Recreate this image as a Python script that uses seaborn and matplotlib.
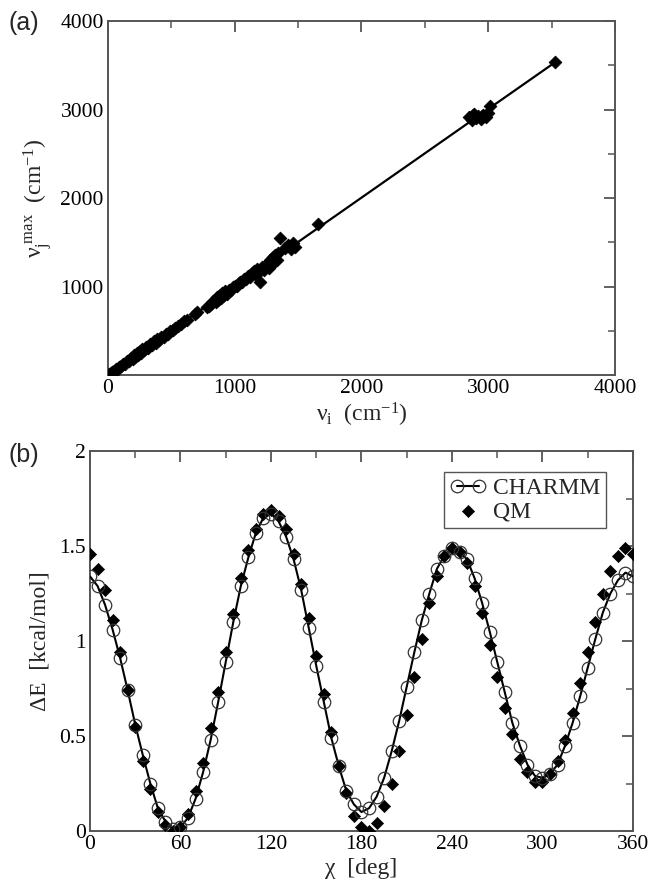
import numpy as np
import matplotlib
matplotlib.use("Agg")
import matplotlib.pyplot as plt
import seaborn as sns

# --- panel (a): nu_i vs nu_j max --- #
nu_i = [10, 20, 30, 45, 60, 75, 90, 105, 120, 135, 150, 165, 180, 195, 205, 215, 225, 235,
        250, 260, 270, 285, 300, 315, 330, 345, 360, 375, 390, 405, 420, 440, 455, 470, 490,
        510, 530, 550, 575, 600, 620, 690, 705,
        780, 800, 815, 830, 850, 860, 870, 880, 890, 900, 910, 925, 940, 955, 970, 985, 1000,
        1015, 1030, 1045, 1060, 1075, 1090, 1105, 1120, 1135, 1150, 1160, 1175, 1190, 1200,
        1215, 1230, 1245, 1260, 1270, 1280, 1290, 1300, 1310, 1320, 1330, 1345, 1360, 1400,
        1420, 1440, 1460, 1475,
        1660,
        2850, 2870, 2890, 2900, 2920, 2940, 2960, 2980, 2995, 3010, 2880, 2950, 3530]
nu_j = [12, 18, 35, 42, 65, 72, 95, 100, 128, 130, 160, 158, 195, 185, 225, 205, 250, 228,
        270, 245, 290, 280, 320, 305, 345, 335, 380, 365, 405, 400, 430, 435, 465, 468, 495,
        505, 535, 552, 575, 605, 620, 685, 710,
        770, 785, 800, 835, 820, 880, 850, 900, 870, 930, 895, 945, 920, 965, 960, 990, 1005,
        1010, 1040, 1050, 1055, 1080, 1085, 1120, 1110, 1150, 1180, 1140, 1200, 1165, 1050,
        1220, 1190, 1240, 1270, 1210, 1300, 1250, 1330, 1280, 1360, 1300, 1380, 1550, 1440,
        1470, 1420, 1490, 1450,
        1710,
        2920, 2880, 2950, 2900, 2930, 2890, 2940, 2910, 2960, 3040, 2940, 2930, 3540]

# --- panel (b): torsion scan --- #
chi = list(range(0, 361, 5))
e_charmm = [1.34, 1.29, 1.19, 1.06, 0.91, 0.74, 0.56, 0.40, 0.25, 0.12, 0.05, 0.01, 0.02,
            0.07, 0.17, 0.31, 0.48, 0.68, 0.89, 1.10, 1.29, 1.44, 1.57, 1.65, 1.67, 1.63,
            1.55, 1.43, 1.27, 1.07, 0.87, 0.68, 0.49, 0.34, 0.21, 0.14, 0.10, 0.12, 0.18,
            0.28, 0.42, 0.58, 0.76, 0.94, 1.11, 1.25, 1.38, 1.45, 1.49, 1.47, 1.43, 1.33,
            1.20, 1.05, 0.89, 0.73, 0.57, 0.45, 0.35, 0.29, 0.28, 0.30, 0.35, 0.45, 0.57,
            0.71, 0.86, 1.01, 1.15, 1.25, 1.32, 1.36, 1.34]
e_qm = [1.46, 1.38, 1.27, 1.11, 0.94, 0.74, 0.55, 0.37, 0.22, 0.10, 0.03, 0.00, 0.02,
        0.09, 0.21, 0.36, 0.54, 0.73, 0.94, 1.14, 1.33, 1.48, 1.59, 1.67, 1.69, 1.66,
        1.59, 1.46, 1.30, 1.12, 0.92, 0.72, 0.52, 0.34, 0.20, 0.08, 0.02, 0.00, 0.04,
        0.13, 0.25, 0.42, 0.61, 0.81, 1.01, 1.20, 1.34, 1.45, 1.49, 1.47, 1.41, 1.29,
        1.15, 0.98, 0.81, 0.65, 0.51, 0.38, 0.31, 0.26, 0.26, 0.30, 0.37, 0.48, 0.62,
        0.78, 0.94, 1.10, 1.25, 1.37, 1.45, 1.49, 1.46]

sns.set_style("white")
plt.rcParams['font.family'] = ['Liberation Serif', 'DejaVu Serif']
plt.rcParams['mathtext.fontset'] = 'custom'
plt.rcParams['mathtext.rm'] = 'Liberation Serif'
plt.rcParams['mathtext.it'] = 'Liberation Serif:italic'
plt.rcParams['xtick.direction'] = 'in'
plt.rcParams['ytick.direction'] = 'in'

FRAME = '#555555'
TICK_FS = 15.5
LABEL_FS = 17


def estilo_ejes(ax):
    for s in ax.spines.values():
        s.set_color(FRAME)
        s.set_linewidth(1.4)
    ax.tick_params(which='both', top=True, right=True, color=FRAME,
                   labelsize=TICK_FS, labelcolor='black')
    ax.tick_params(which='major', length=8, width=1.3, pad=3)
    ax.tick_params(which='minor', length=5, width=1.1)


fig = plt.figure(figsize=(6.55, 8.82), dpi=100)
ax1 = fig.add_axes([0.1649, 0.5748, 0.774, 0.4014])
ax2 = fig.add_axes([0.1374, 0.0578, 0.829, 0.4308])

# (a)
pend, corte = np.polyfit(nu_i, nu_j, 1)
lx = np.array([0, max(nu_i)])
sns.lineplot(x=lx, y=pend * lx + corte, ax=ax1, color='black', linewidth=1.6)
sns.scatterplot(x=nu_i, y=nu_j, ax=ax1, marker='D', s=42, color='black',
                edgecolor='black', linewidth=0.6, zorder=3)
ax1.set_xlim(0, 4000)
ax1.set_ylim(0, 4000)
ax1.set_xticks([0, 1000, 2000, 3000, 4000])
ax1.set_yticks([1000, 2000, 3000, 4000])
ax1.set_xticks([500, 1500, 2500, 3500], minor=True)
ax1.set_yticks([500, 1500, 2500, 3500], minor=True)
ax1.set_xlabel(r'ν$_\mathrm{i}$  (cm$^{-1}$)', fontsize=LABEL_FS, labelpad=2)
ax1.set_ylabel(r'ν$_\mathrm{j}^{\ \mathrm{max}}$  (cm$^{-1}$)', fontsize=LABEL_FS, labelpad=4)
estilo_ejes(ax1)

# (b)
sns.scatterplot(x=chi, y=e_qm, ax=ax2, marker='D', s=38, color='black',
                edgecolor='black', linewidth=0.5, label='QM', zorder=3)
sns.lineplot(x=chi, y=e_charmm, ax=ax2, color='black', linewidth=1.5,
             marker='o', markersize=9, markerfacecolor='none',
             markeredgecolor='#333333', markeredgewidth=0.9, label='CHARMM', zorder=4)
ax2.set_xlim(0, 360)
ax2.set_ylim(0, 2)
ax2.set_xticks(range(0, 361, 60))
ax2.set_xticks(range(30, 360, 60), minor=True)
ax2.set_yticks([0, 0.5, 1, 1.5, 2])
ax2.set_yticks([0.25, 0.75, 1.25, 1.75], minor=True)
ax2.set_yticklabels(['0', '0.5', '1', '1.5', '2'])
ax2.set_xlabel('χ  [deg]', fontsize=LABEL_FS, labelpad=3)
ax2.set_ylabel('ΔE  [kcal/mol]', fontsize=LABEL_FS, labelpad=6)
estilo_ejes(ax2)

h, l = ax2.get_legend_handles_labels()
orden = [l.index('CHARMM'), l.index('QM')]
leg = ax2.legend([h[i] for i in orden], [l[i] for i in orden],
                 loc='upper right', bbox_to_anchor=(0.95, 0.945), borderaxespad=0,
                 numpoints=2, scatterpoints=1, handlelength=1.5, handletextpad=0.3,
                 labelspacing=0.05, borderpad=0.25, fancybox=False, framealpha=1,
                 fontsize=LABEL_FS, edgecolor=FRAME)
leg.get_frame().set_linewidth(1.0)

fig.text(0.013, 0.987, '(a)', family='Liberation Sans', fontsize=18, va='top')
fig.text(0.013, 0.498, '(b)', family='Liberation Sans', fontsize=18, va='top')

fig.savefig('out.png', dpi=100)
